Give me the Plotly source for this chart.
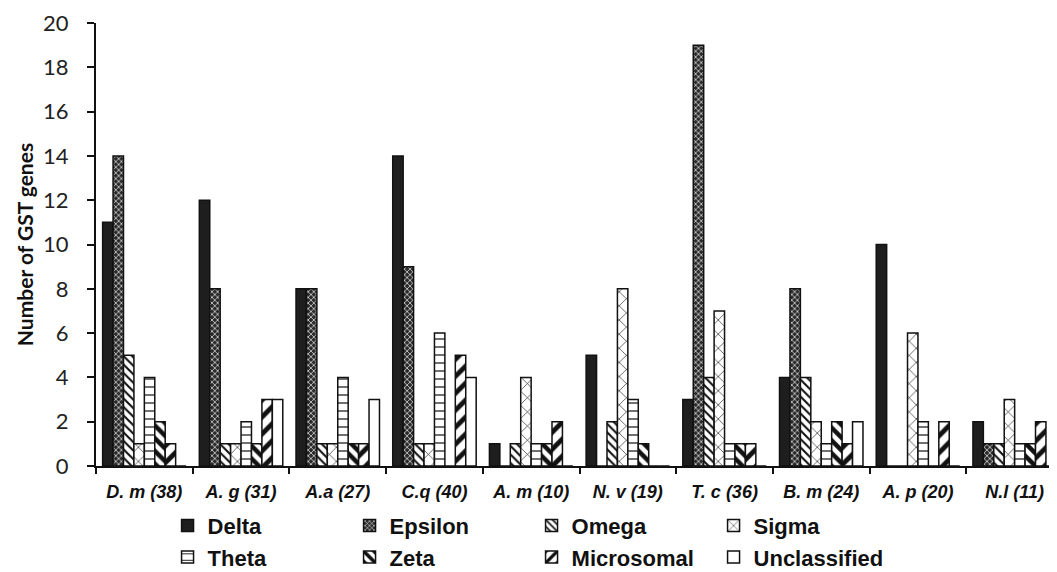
import plotly.graph_objects as go

categories = ["D. m (38)", "A. g (31)", "A.a (27)", "C.q (40)", "A. m (10)",
              "N. v (19)", "T. c (36)", "B. m (24)", "A. p (20)", "N.l (11)"]

delta        = [11, 12, 8, 14, 1, 5, 3, 4, 10, 2]
epsilon      = [14, 8, 8, 9, 0, 0, 19, 8, 0, 1]
omega        = [5, 1, 1, 1, 1, 2, 4, 4, 0, 1]
sigma        = [1, 1, 1, 1, 4, 8, 7, 2, 6, 3]
theta        = [4, 2, 4, 6, 1, 3, 1, 1, 2, 1]
zeta         = [2, 1, 1, 0, 1, 1, 1, 2, 0, 1]
microsomal   = [1, 3, 1, 5, 2, 0, 1, 1, 2, 2]
unclassified = [0, 3, 3, 4, 0, 0, 0, 2, 0, 0]

y_ticks = [0, 2, 4, 6, 8, 10, 12, 14, 16, 18, 20]

series = [
    ("Delta", delta, dict(color="#1e1e1e")),
    ("Epsilon", epsilon, dict(color="#333333",
                              pattern=dict(shape="x", fgcolor="white", bgcolor="#2a2a2a",
                                           size=4, solidity=0.3, fillmode="replace"))),
    ("Omega", omega, dict(color="white",
                          pattern=dict(shape="\\", fgcolor="#111111", bgcolor="white",
                                       size=6, solidity=0.35, fillmode="replace"))),
    ("Sigma", sigma, dict(color="white",
                          pattern=dict(shape="x", fgcolor="#111111", bgcolor="white",
                                       size=10, solidity=0.12, fillmode="replace"))),
    ("Theta", theta, dict(color="white",
                          pattern=dict(shape="-", fgcolor="#111111", bgcolor="white",
                                       size=8, solidity=0.15, fillmode="replace"))),
    ("Zeta", zeta, dict(color="white",
                        pattern=dict(shape="\\", fgcolor="#111111", bgcolor="white",
                                     size=9, solidity=0.5, fillmode="replace"))),
    ("Microsomal", microsomal, dict(color="white",
                                    pattern=dict(shape="/", fgcolor="#111111", bgcolor="white",
                                                 size=12, solidity=0.4, fillmode="replace"))),
    ("Unclassified", unclassified, dict(color="white")),
]

fig = go.Figure()
for i, (name, vals, mk) in enumerate(series):
    mk = dict(mk)
    mk["line"] = dict(color="#111111", width=1.5)
    fig.add_trace(go.Bar(
        x=categories, y=vals, name=name, marker=mk,
        legend="legend" if i < 4 else "legend2",
    ))

legend_common = dict(
    orientation="h", xanchor="left", yanchor="middle",
    font=dict(family="Liberation Sans", size=22, color="#111111", weight="bold"),
    entrywidth=137, entrywidthmode="pixels", itemwidth=30,
    bgcolor="rgba(0,0,0,0)", tracegroupgap=0,
)

fig.update_layout(
    width=1057, height=572,
    margin=dict(l=88, r=2, t=15, b=105),
    paper_bgcolor="white", plot_bgcolor="white",
    barmode="group", bargap=0.137, bargroupgap=0,
    showlegend=True,
    legend=dict(x=0.074, y=-0.135, **legend_common),
    legend2=dict(x=0.074, y=-0.206, **legend_common),
    xaxis=dict(
        type="category", showline=True, linecolor="#111111", linewidth=2,
        ticks="outside", tickson="boundaries", ticklen=6, tickwidth=2, tickcolor="#111111",
        tickfont=dict(family="Liberation Sans", size=18, color="#111111",
                      weight="bold", style="italic"),
        ticklabelstandoff=8, showgrid=False,
    ),
    yaxis=dict(
        range=[0, 20], tickvals=y_ticks, showline=True, linecolor="#111111", linewidth=2,
        ticks="outside", ticklen=7, tickwidth=2, tickcolor="#111111",
        tickfont=dict(family="Lato", size=22, color="#222222"),
        ticklabelstandoff=14,
        showgrid=False, zeroline=False,
        title=dict(text="Number of GST genes", standoff=4,
                   font=dict(family="Lato", size=21, color="#111111", weight="bold")),
    ),
)

fig.write_html("out.html")
